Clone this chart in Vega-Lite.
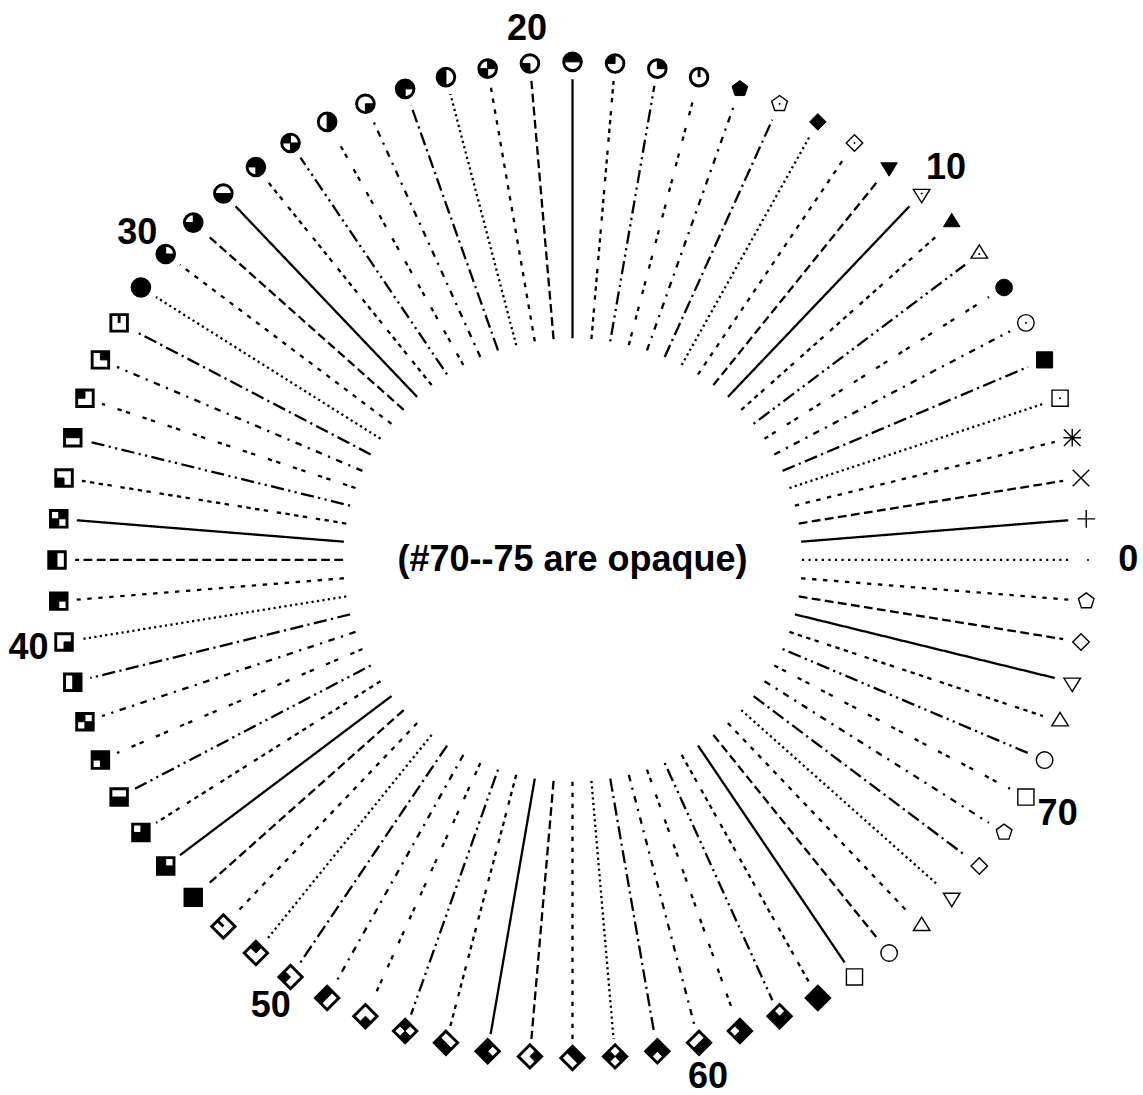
{
"$schema": "https://vega.github.io/schema/vega-lite/v6.json",
"width": 1143, "height": 1095,
"autosize": {"type": "fit", "contains": "padding"},
"padding": 0,
"background": "white",
"config": {"view": {"stroke": null}},
"datasets": {
"pts": [
{"i":0,"x":1,"y":0,"x1":0.445,"y1":0,"x2":0.965,"y2":0},
{"i":1,"x":0.9966,"y":0.0826,"x1":0.4435,"y1":0.0367,"x2":0.9617,"y2":0.0797},
{"i":2,"x":0.9864,"y":0.1646,"x1":0.4389,"y1":0.0732,"x2":0.9518,"y2":0.1588},
{"i":3,"x":0.9694,"y":0.2455,"x1":0.4314,"y1":0.1092,"x2":0.9355,"y2":0.2369},
{"i":4,"x":0.9458,"y":0.3247,"x1":0.4209,"y1":0.1445,"x2":0.9127,"y2":0.3133},
{"i":5,"x":0.9158,"y":0.4017,"x1":0.4075,"y1":0.1788,"x2":0.8837,"y2":0.3876},
{"i":6,"x":0.8795,"y":0.476,"x1":0.3914,"y1":0.2118,"x2":0.8487,"y2":0.4593},
{"i":7,"x":0.8372,"y":0.547,"x1":0.3725,"y1":0.2434,"x2":0.8079,"y2":0.5278},
{"i":8,"x":0.7891,"y":0.6142,"x1":0.3512,"y1":0.2733,"x2":0.7615,"y2":0.5927},
{"i":9,"x":0.7357,"y":0.6773,"x1":0.3274,"y1":0.3014,"x2":0.71,"y2":0.6536},
{"i":10,"x":0.6773,"y":0.7357,"x1":0.3014,"y1":0.3274,"x2":0.6536,"y2":0.71},
{"i":11,"x":0.6142,"y":0.7891,"x1":0.2733,"y1":0.3512,"x2":0.5927,"y2":0.7615},
{"i":12,"x":0.547,"y":0.8372,"x1":0.2434,"y1":0.3725,"x2":0.5278,"y2":0.8079},
{"i":13,"x":0.476,"y":0.8795,"x1":0.2118,"y1":0.3914,"x2":0.4593,"y2":0.8487},
{"i":14,"x":0.4017,"y":0.9158,"x1":0.1788,"y1":0.4075,"x2":0.3876,"y2":0.8837},
{"i":15,"x":0.3247,"y":0.9458,"x1":0.1445,"y1":0.4209,"x2":0.3133,"y2":0.9127},
{"i":16,"x":0.2455,"y":0.9694,"x1":0.1092,"y1":0.4314,"x2":0.2369,"y2":0.9355},
{"i":17,"x":0.1646,"y":0.9864,"x1":0.0732,"y1":0.4389,"x2":0.1588,"y2":0.9518},
{"i":18,"x":0.0826,"y":0.9966,"x1":0.0367,"y1":0.4435,"x2":0.0797,"y2":0.9617},
{"i":19,"x":0,"y":1,"x1":0,"y1":0.445,"x2":0,"y2":0.965},
{"i":20,"x":-0.0826,"y":0.9966,"x1":-0.0367,"y1":0.4435,"x2":-0.0797,"y2":0.9617},
{"i":21,"x":-0.1646,"y":0.9864,"x1":-0.0732,"y1":0.4389,"x2":-0.1588,"y2":0.9518},
{"i":22,"x":-0.2455,"y":0.9694,"x1":-0.1092,"y1":0.4314,"x2":-0.2369,"y2":0.9355},
{"i":23,"x":-0.3247,"y":0.9458,"x1":-0.1445,"y1":0.4209,"x2":-0.3133,"y2":0.9127},
{"i":24,"x":-0.4017,"y":0.9158,"x1":-0.1788,"y1":0.4075,"x2":-0.3876,"y2":0.8837},
{"i":25,"x":-0.476,"y":0.8795,"x1":-0.2118,"y1":0.3914,"x2":-0.4593,"y2":0.8487},
{"i":26,"x":-0.547,"y":0.8372,"x1":-0.2434,"y1":0.3725,"x2":-0.5278,"y2":0.8079},
{"i":27,"x":-0.6142,"y":0.7891,"x1":-0.2733,"y1":0.3512,"x2":-0.5927,"y2":0.7615},
{"i":28,"x":-0.6773,"y":0.7357,"x1":-0.3014,"y1":0.3274,"x2":-0.6536,"y2":0.71},
{"i":29,"x":-0.7357,"y":0.6773,"x1":-0.3274,"y1":0.3014,"x2":-0.71,"y2":0.6536},
{"i":30,"x":-0.7891,"y":0.6142,"x1":-0.3512,"y1":0.2733,"x2":-0.7615,"y2":0.5927},
{"i":31,"x":-0.8372,"y":0.547,"x1":-0.3725,"y1":0.2434,"x2":-0.8079,"y2":0.5278},
{"i":32,"x":-0.8795,"y":0.476,"x1":-0.3914,"y1":0.2118,"x2":-0.8487,"y2":0.4593},
{"i":33,"x":-0.9158,"y":0.4017,"x1":-0.4075,"y1":0.1788,"x2":-0.8837,"y2":0.3876},
{"i":34,"x":-0.9458,"y":0.3247,"x1":-0.4209,"y1":0.1445,"x2":-0.9127,"y2":0.3133},
{"i":35,"x":-0.9694,"y":0.2455,"x1":-0.4314,"y1":0.1092,"x2":-0.9355,"y2":0.2369},
{"i":36,"x":-0.9864,"y":0.1646,"x1":-0.4389,"y1":0.0732,"x2":-0.9518,"y2":0.1588},
{"i":37,"x":-0.9966,"y":0.0826,"x1":-0.4435,"y1":0.0367,"x2":-0.9617,"y2":0.0797},
{"i":38,"x":-1,"y":0,"x1":-0.445,"y1":0,"x2":-0.965,"y2":0},
{"i":39,"x":-0.9966,"y":-0.0826,"x1":-0.4435,"y1":-0.0367,"x2":-0.9617,"y2":-0.0797},
{"i":40,"x":-0.9864,"y":-0.1646,"x1":-0.4389,"y1":-0.0732,"x2":-0.9518,"y2":-0.1588},
{"i":41,"x":-0.9694,"y":-0.2455,"x1":-0.4314,"y1":-0.1092,"x2":-0.9355,"y2":-0.2369},
{"i":42,"x":-0.9458,"y":-0.3247,"x1":-0.4209,"y1":-0.1445,"x2":-0.9127,"y2":-0.3133},
{"i":43,"x":-0.9158,"y":-0.4017,"x1":-0.4075,"y1":-0.1788,"x2":-0.8837,"y2":-0.3876},
{"i":44,"x":-0.8795,"y":-0.476,"x1":-0.3914,"y1":-0.2118,"x2":-0.8487,"y2":-0.4593},
{"i":45,"x":-0.8372,"y":-0.547,"x1":-0.3725,"y1":-0.2434,"x2":-0.8079,"y2":-0.5278},
{"i":46,"x":-0.7891,"y":-0.6142,"x1":-0.3512,"y1":-0.2733,"x2":-0.7615,"y2":-0.5927},
{"i":47,"x":-0.7357,"y":-0.6773,"x1":-0.3274,"y1":-0.3014,"x2":-0.71,"y2":-0.6536},
{"i":48,"x":-0.6773,"y":-0.7357,"x1":-0.3014,"y1":-0.3274,"x2":-0.6536,"y2":-0.71},
{"i":49,"x":-0.6142,"y":-0.7891,"x1":-0.2733,"y1":-0.3512,"x2":-0.5927,"y2":-0.7615},
{"i":50,"x":-0.547,"y":-0.8372,"x1":-0.2434,"y1":-0.3725,"x2":-0.5278,"y2":-0.8079},
{"i":51,"x":-0.476,"y":-0.8795,"x1":-0.2118,"y1":-0.3914,"x2":-0.4593,"y2":-0.8487},
{"i":52,"x":-0.4017,"y":-0.9158,"x1":-0.1788,"y1":-0.4075,"x2":-0.3876,"y2":-0.8837},
{"i":53,"x":-0.3247,"y":-0.9458,"x1":-0.1445,"y1":-0.4209,"x2":-0.3133,"y2":-0.9127},
{"i":54,"x":-0.2455,"y":-0.9694,"x1":-0.1092,"y1":-0.4314,"x2":-0.2369,"y2":-0.9355},
{"i":55,"x":-0.1646,"y":-0.9864,"x1":-0.0732,"y1":-0.4389,"x2":-0.1588,"y2":-0.9518},
{"i":56,"x":-0.0826,"y":-0.9966,"x1":-0.0367,"y1":-0.4435,"x2":-0.0797,"y2":-0.9617},
{"i":57,"x":0,"y":-1,"x1":0,"y1":-0.445,"x2":0,"y2":-0.965},
{"i":58,"x":0.0826,"y":-0.9966,"x1":0.0367,"y1":-0.4435,"x2":0.0797,"y2":-0.9617},
{"i":59,"x":0.1646,"y":-0.9864,"x1":0.0732,"y1":-0.4389,"x2":0.1588,"y2":-0.9518},
{"i":60,"x":0.2455,"y":-0.9694,"x1":0.1092,"y1":-0.4314,"x2":0.2369,"y2":-0.9355},
{"i":61,"x":0.3247,"y":-0.9458,"x1":0.1445,"y1":-0.4209,"x2":0.3133,"y2":-0.9127},
{"i":62,"x":0.4017,"y":-0.9158,"x1":0.1788,"y1":-0.4075,"x2":0.3876,"y2":-0.8837},
{"i":63,"x":0.476,"y":-0.8795,"x1":0.2118,"y1":-0.3914,"x2":0.4593,"y2":-0.8487},
{"i":64,"x":0.547,"y":-0.8372,"x1":0.2434,"y1":-0.3725,"x2":0.5278,"y2":-0.8079},
{"i":65,"x":0.6142,"y":-0.7891,"x1":0.2733,"y1":-0.3512,"x2":0.5927,"y2":-0.7615},
{"i":66,"x":0.6773,"y":-0.7357,"x1":0.3014,"y1":-0.3274,"x2":0.6536,"y2":-0.71},
{"i":67,"x":0.7357,"y":-0.6773,"x1":0.3274,"y1":-0.3014,"x2":0.71,"y2":-0.6536},
{"i":68,"x":0.7891,"y":-0.6142,"x1":0.3512,"y1":-0.2733,"x2":0.7615,"y2":-0.5927},
{"i":69,"x":0.8372,"y":-0.547,"x1":0.3725,"y1":-0.2434,"x2":0.8079,"y2":-0.5278},
{"i":70,"x":0.8795,"y":-0.476,"x1":0.3914,"y1":-0.2118,"x2":0.8487,"y2":-0.4593},
{"i":71,"x":0.9158,"y":-0.4017,"x1":0.4075,"y1":-0.1788,"x2":0.8837,"y2":-0.3876},
{"i":72,"x":0.9458,"y":-0.3247,"x1":0.4209,"y1":-0.1445,"x2":0.9127,"y2":-0.3133},
{"i":73,"x":0.9694,"y":-0.2455,"x1":0.4314,"y1":-0.1092,"x2":0.9355,"y2":-0.2369},
{"i":74,"x":0.9864,"y":-0.1646,"x1":0.4389,"y1":-0.0732,"x2":0.9518,"y2":-0.1588},
{"i":75,"x":0.9966,"y":-0.0826,"x1":0.4435,"y1":-0.0367,"x2":0.9617,"y2":-0.0797}
],
"labels": [
{"t":"0","x":1.078,"y":0},
{"t":"10","x":0.7247,"y":0.7872},
{"t":"20","x":-0.0884,"y":1.0664},
{"t":"30","x":-0.8443,"y":0.6572},
{"t":"40","x":-1.0554,"y":-0.1761},
{"t":"50","x":-0.5853,"y":-0.8958},
{"t":"60","x":0.2627,"y":-1.0373},
{"t":"70","x":0.9411,"y":-0.5093}
],
"note": [{"t":"(#70--75 are opaque)","x":0,"y":0}]
},
"layer": [
{
"data": {"name": "pts"},
"mark": {"type": "rule", "color": "black", "strokeWidth": 2.3, "strokeCap": "butt"},
"encoding": {
"x": {"field": "x1", "type": "quantitative", "scale": {"domain": [-1.1106, 1.1067], "nice": false, "zero": false}, "axis": null},
"y": {"field": "y1", "type": "quantitative", "scale": {"domain": [-1.0701, 1.1242], "nice": false, "zero": false}, "axis": null},
"x2": {"field": "x2"},
"y2": {"field": "y2"},
"strokeDash": {
"condition": [
{"test": "datum.i==0", "value": [2.2, 4.4]},
{"test": "(datum.i-1)%9==1", "value": [8.8, 4.4]},
{"test": "(datum.i-1)%9==2", "value": [4.4, 6.6]},
{"test": "(datum.i-1)%9==3", "value": [2.2, 3.3]},
{"test": "(datum.i-1)%9==4", "value": [13.2, 4.4, 2.2, 4.4]},
{"test": "(datum.i-1)%9==5", "value": [6.6, 6.6, 2.2, 6.6]},
{"test": "(datum.i-1)%9==6", "value": [4.4, 4.4, 4.4, 13.2]},
{"test": "(datum.i-1)%9==7", "value": [2.2, 4.4, 13.2, 4.4, 2.2, 4.4]},
{"test": "(datum.i-1)%9==8", "value": [4.4, 4.4, 4.4, 4.4, 4.4, 4.4, 4.4, 8.8]}
],
"value": [1, 0]
}
}
},
{
"data": {"name": "pts"},
"transform": [{"filter": "indexof([1,2,3,4,6,8,10,12,14], datum.i) >= 0 || datum.i >= 64"}],
"mark": {"type": "point", "filled": false, "color": "black", "strokeWidth": 1.4, "size": 361, "opacity": 1},
"encoding": {
"x": {"field": "x", "type": "quantitative", "axis": null},
"y": {"field": "y", "type": "quantitative", "axis": null},
"shape": {"field": "i", "type": "nominal", "legend": null, "scale": {
"domain": [1,2,3,4,6,8,10,12,14,64,65,66,67,68,69,70,71,72,73,74,75],
"range": [
"M-0.93,0H0.93M0,-0.93V0.93",
"M-0.87,-0.87L0.87,0.87M-0.87,0.87L0.87,-0.87",
"M-0.93,0H0.93M0,-0.93V0.93M-0.87,-0.87L0.87,0.87M-0.87,0.87L0.87,-0.87",
"M-0.85,-0.85H0.85V0.85H-0.85Z",
"M0.87,0A0.87,0.87 0 1 0 -0.87,0A0.87,0.87 0 1 0 0.87,0Z",
"M0,-0.974L0.87,0.435L-0.87,0.435Z",
"M0,0.974L0.87,-0.435L-0.87,-0.435Z",
"M0,-0.87L0.87,0L0,0.87L-0.87,0Z",
"M0,-0.87L0.827,-0.269L0.511,0.704L-0.511,0.704L-0.827,-0.269Z",
"M-0.85,-0.85H0.85V0.85H-0.85Z",
"M0.87,0A0.87,0.87 0 1 0 -0.87,0A0.87,0.87 0 1 0 0.87,0Z",
"M0,-0.974L0.87,0.435L-0.87,0.435Z",
"M0,0.974L0.87,-0.435L-0.87,-0.435Z",
"M0,-0.87L0.87,0L0,0.87L-0.87,0Z",
"M0,-0.87L0.827,-0.269L0.511,0.704L-0.511,0.704L-0.827,-0.269Z",
"M-0.85,-0.85H0.85V0.85H-0.85Z",
"M0.87,0A0.87,0.87 0 1 0 -0.87,0A0.87,0.87 0 1 0 0.87,0Z",
"M0,-0.974L0.87,0.435L-0.87,0.435Z",
"M0,0.974L0.87,-0.435L-0.87,-0.435Z",
"M0,-0.87L0.87,0L0,0.87L-0.87,0Z",
"M0,-0.87L0.827,-0.269L0.511,0.704L-0.511,0.704L-0.827,-0.269Z"
]}}
}
},
{
"data": {"name": "pts"},
"transform": [{"filter": "datum.i == 0 || (datum.i >= 4 && datum.i <= 63 && datum.i != 16 && datum.i != 32 && datum.i != 48)"}],
"mark": {"type": "point", "filled": true, "color": "black", "stroke": "black", "strokeWidth": 1, "size": 361, "opacity": 1},
"encoding": {
"x": {"field": "x", "type": "quantitative", "axis": null},
"y": {"field": "y", "type": "quantitative", "axis": null},
"shape": {"field": "i", "type": "nominal", "legend": null, "scale": {
"domain": [0,4,5,6,7,8,9,10,11,12,13,14,15,17,18,19,20,21,22,23,24,25,26,27,28,29,30,31,33,34,35,36,37,38,39,40,41,42,43,44,45,46,47,49,50,51,52,53,54,55,56,57,58,59,60,61,62,63],
"range": [
"M-0.05,-0.05H0.05V0.05H-0.05Z",
"M-0.05,-0.05H0.05V0.05H-0.05Z",
"M-0.85,-0.85H0.85V0.85H-0.85Z",
"M-0.05,-0.05H0.05V0.05H-0.05Z",
"M0.87,0A0.87,0.87 0 1 0 -0.87,0A0.87,0.87 0 1 0 0.87,0Z",
"M-0.05,-0.05H0.05V0.05H-0.05Z",
"M0,-0.974L0.87,0.435L-0.87,0.435Z",
"M-0.05,-0.05H0.05V0.05H-0.05Z",
"M0,0.974L0.87,-0.435L-0.87,-0.435Z",
"M-0.05,-0.05H0.05V0.05H-0.05Z",
"M0,-0.87L0.87,0L0,0.87L-0.87,0Z",
"M-0.05,-0.05H0.05V0.05H-0.05Z",
"M0,-0.87L0.827,-0.269L0.511,0.704L-0.511,0.704L-0.827,-0.269Z",
"M0,0L0.93,0A0.93,0.93 0 0 0 0,-0.93Z",
"M0,0L0,-0.93A0.93,0.93 0 0 0 -0.93,0Z",
"M0,0L0.93,0A0.93,0.93 0 0 0 0,-0.93ZM0,0L0,-0.93A0.93,0.93 0 0 0 -0.93,0Z",
"M0,0L-0.93,0A0.93,0.93 0 0 0 0,0.93Z",
"M0,0L0.93,0A0.93,0.93 0 0 0 0,-0.93ZM0,0L-0.93,0A0.93,0.93 0 0 0 0,0.93Z",
"M0,0L0,-0.93A0.93,0.93 0 0 0 -0.93,0ZM0,0L-0.93,0A0.93,0.93 0 0 0 0,0.93Z",
"M0,0L0.93,0A0.93,0.93 0 0 0 0,-0.93ZM0,0L0,-0.93A0.93,0.93 0 0 0 -0.93,0ZM0,0L-0.93,0A0.93,0.93 0 0 0 0,0.93Z",
"M0,0L0,0.93A0.93,0.93 0 0 0 0.93,0Z",
"M0,0L0.93,0A0.93,0.93 0 0 0 0,-0.93ZM0,0L0,0.93A0.93,0.93 0 0 0 0.93,0Z",
"M0,0L0,-0.93A0.93,0.93 0 0 0 -0.93,0ZM0,0L0,0.93A0.93,0.93 0 0 0 0.93,0Z",
"M0,0L0.93,0A0.93,0.93 0 0 0 0,-0.93ZM0,0L0,-0.93A0.93,0.93 0 0 0 -0.93,0ZM0,0L0,0.93A0.93,0.93 0 0 0 0.93,0Z",
"M0,0L-0.93,0A0.93,0.93 0 0 0 0,0.93ZM0,0L0,0.93A0.93,0.93 0 0 0 0.93,0Z",
"M0,0L0.93,0A0.93,0.93 0 0 0 0,-0.93ZM0,0L-0.93,0A0.93,0.93 0 0 0 0,0.93ZM0,0L0,0.93A0.93,0.93 0 0 0 0.93,0Z",
"M0,0L0,-0.93A0.93,0.93 0 0 0 -0.93,0ZM0,0L-0.93,0A0.93,0.93 0 0 0 0,0.93ZM0,0L0,0.93A0.93,0.93 0 0 0 0.93,0Z",
"M0.93,0A0.93,0.93 0 1 0 -0.93,0A0.93,0.93 0 1 0 0.93,0Z",
"M0,0H0.87V-0.87H0Z",
"M0,0H-0.87V-0.87H0Z",
"M0,0H0.87V-0.87H0ZM0,0H-0.87V-0.87H0Z",
"M0,0H-0.87V0.87H0Z",
"M0,0H0.87V-0.87H0ZM0,0H-0.87V0.87H0Z",
"M0,0H-0.87V-0.87H0ZM0,0H-0.87V0.87H0Z",
"M0,0H0.87V-0.87H0ZM0,0H-0.87V-0.87H0ZM0,0H-0.87V0.87H0Z",
"M0,0H0.87V0.87H0Z",
"M0,0H0.87V-0.87H0ZM0,0H0.87V0.87H0Z",
"M0,0H-0.87V-0.87H0ZM0,0H0.87V0.87H0Z",
"M0,0H0.87V-0.87H0ZM0,0H-0.87V-0.87H0ZM0,0H0.87V0.87H0Z",
"M0,0H-0.87V0.87H0ZM0,0H0.87V0.87H0Z",
"M0,0H0.87V-0.87H0ZM0,0H-0.87V0.87H0ZM0,0H0.87V0.87H0Z",
"M0,0H-0.87V-0.87H0ZM0,0H-0.87V0.87H0ZM0,0H0.87V0.87H0Z",
"M-0.87,-0.87H0.87V0.87H-0.87Z",
"M0,0L0.615,-0.615L0,-1.23L-0.615,-0.615Z",
"M0,0L-0.615,-0.615L-1.23,0L-0.615,0.615Z",
"M0,0L0.615,-0.615L0,-1.23L-0.615,-0.615ZM0,0L-0.615,-0.615L-1.23,0L-0.615,0.615Z",
"M0,0L-0.615,0.615L0,1.23L0.615,0.615Z",
"M0,0L0.615,-0.615L0,-1.23L-0.615,-0.615ZM0,0L-0.615,0.615L0,1.23L0.615,0.615Z",
"M0,0L-0.615,-0.615L-1.23,0L-0.615,0.615ZM0,0L-0.615,0.615L0,1.23L0.615,0.615Z",
"M0,0L0.615,-0.615L0,-1.23L-0.615,-0.615ZM0,0L-0.615,-0.615L-1.23,0L-0.615,0.615ZM0,0L-0.615,0.615L0,1.23L0.615,0.615Z",
"M0,0L0.615,0.615L1.23,0L0.615,-0.615Z",
"M0,0L0.615,-0.615L0,-1.23L-0.615,-0.615ZM0,0L0.615,0.615L1.23,0L0.615,-0.615Z",
"M0,0L-0.615,-0.615L-1.23,0L-0.615,0.615ZM0,0L0.615,0.615L1.23,0L0.615,-0.615Z",
"M0,0L0.615,-0.615L0,-1.23L-0.615,-0.615ZM0,0L-0.615,-0.615L-1.23,0L-0.615,0.615ZM0,0L0.615,0.615L1.23,0L0.615,-0.615Z",
"M0,0L-0.615,0.615L0,1.23L0.615,0.615ZM0,0L0.615,0.615L1.23,0L0.615,-0.615Z",
"M0,0L0.615,-0.615L0,-1.23L-0.615,-0.615ZM0,0L-0.615,0.615L0,1.23L0.615,0.615ZM0,0L0.615,0.615L1.23,0L0.615,-0.615Z",
"M0,0L-0.615,-0.615L-1.23,0L-0.615,0.615ZM0,0L-0.615,0.615L0,1.23L0.615,0.615ZM0,0L0.615,0.615L1.23,0L0.615,-0.615Z",
"M0,-1.23L1.23,0L0,1.23L-1.23,0Z"
]}}
}
},
{
"data": {"name": "pts"},
"transform": [{"filter": "datum.i >= 16 && datum.i <= 31"}],
"mark": {"type": "point", "filled": false, "color": "black", "strokeWidth": 2.9, "size": 361, "opacity": 1, "shape": "M0.93,0A0.93,0.93 0 1 0 -0.93,0A0.93,0.93 0 1 0 0.93,0Z"},
"encoding": {
"x": {"field": "x", "type": "quantitative", "axis": null},
"y": {"field": "y", "type": "quantitative", "axis": null}
}
},
{
"data": {"name": "pts"},
"transform": [{"filter": "datum.i >= 32 && datum.i <= 47"}],
"mark": {"type": "point", "filled": false, "color": "black", "strokeWidth": 2.9, "size": 361, "opacity": 1, "strokeJoin": "miter", "shape": "M-0.87,-0.87H0.87V0.87H-0.87Z"},
"encoding": {
"x": {"field": "x", "type": "quantitative", "axis": null},
"y": {"field": "y", "type": "quantitative", "axis": null}
}
},
{
"data": {"name": "pts"},
"transform": [{"filter": "datum.i >= 48 && datum.i <= 63"}],
"mark": {"type": "point", "filled": false, "color": "black", "strokeWidth": 2.9, "size": 361, "opacity": 1, "strokeJoin": "miter", "shape": "M0,-1.23L1.23,0L0,1.23L-1.23,0Z"},
"encoding": {
"x": {"field": "x", "type": "quantitative", "axis": null},
"y": {"field": "y", "type": "quantitative", "axis": null}
}
},
{
"data": {"name": "pts"},
"transform": [{"filter": "datum.i == 16 || datum.i == 32 || datum.i == 48"}],
"mark": {"type": "point", "filled": false, "color": "black", "strokeWidth": 2.9, "size": 361, "opacity": 1, "strokeCap": "butt"},
"encoding": {
"x": {"field": "x", "type": "quantitative", "axis": null},
"y": {"field": "y", "type": "quantitative", "axis": null},
"shape": {"field": "i", "type": "nominal", "legend": null, "scale": {"domain": [16, 32, 48], "range": ["M0,0V-0.93", "M0,0V-0.87", "M0,0L-0.615,-0.615"]}}
}
},
{
"data": {"name": "labels"},
"mark": {"type": "text", "font": "Liberation Sans", "fontWeight": "bold", "fontSize": 36, "align": "center", "baseline": "middle", "color": "black"},
"encoding": {
"x": {"field": "x", "type": "quantitative", "axis": null},
"y": {"field": "y", "type": "quantitative", "axis": null},
"text": {"field": "t", "type": "nominal"}
}
},
{
"data": {"name": "note"},
"mark": {"type": "text", "font": "Liberation Sans", "fontWeight": "bold", "fontSize": 36, "align": "center", "baseline": "middle", "color": "black"},
"encoding": {
"x": {"field": "x", "type": "quantitative", "axis": null},
"y": {"field": "y", "type": "quantitative", "axis": null},
"text": {"field": "t", "type": "nominal"}
}
}
],
"resolve": {"scale": {"shape": "independent"}}
}
